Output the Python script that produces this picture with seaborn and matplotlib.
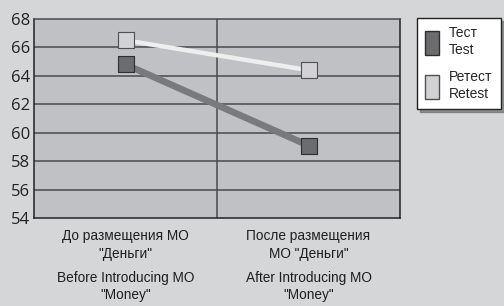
import pandas as pd
import seaborn as sns
import matplotlib.pyplot as plt
from matplotlib.patches import Patch
from matplotlib.transforms import blended_transform_factory

# Data
categories_ru = ["До размещения МО\n\"Деньги\"", "После размещения\nМО \"Деньги\""]
categories_en = ["Before Introducing MO\n\"Money\"", "After Introducing MO\n\"Money\""]
test_values = [64.8, 59.1]
retest_values = [66.5, 64.4]
series_labels = ["Тест\nTest", "Ретест\nRetest"]

BG = "#d5d6d8"
PLOT_BG = "#c0c1c4"
NARROW = ["Liberation Sans", "DejaVu Sans"]

sns.set_theme(style="white")
plt.rcParams["font.family"] = ["Open Sans", "DejaVu Sans"]

df = pd.DataFrame({
    "pos": [0, 1, 0, 1],
    "value": test_values + retest_values,
    "series": ["test", "test", "retest", "retest"],
})

fig = plt.figure(figsize=(5.04, 3.06), dpi=100, facecolor=BG)
ax = fig.add_axes([34 / 504, 1 - 218 / 306, 366 / 504, 199 / 306])
ax.set_facecolor(PLOT_BG)

# grid
for v in range(56, 68, 2):
    ax.axhline(v, color="#4a4a4c", lw=1.1, zorder=1)
ax.axvline(0.5, color="#4a4a4c", lw=1.1, zorder=1)

# lines
sns.lineplot(data=df, x="pos", y="value", hue="series",
             palette={"test": "#7a7a7c", "retest": "#eeeeee"},
             hue_order=["test", "retest"], ax=ax, legend=False, zorder=2)
for line, w in zip(ax.get_lines()[-2:], [4.8, 3.2]):
    line.set_linewidth(w)
    line.set_solid_capstyle("butt")

# markers
sns.scatterplot(data=df[df.series == "test"], x="pos", y="value", marker="s",
                s=135, color="#6c6c6e", edgecolor="#2e2e2e", linewidth=0.8,
                ax=ax, legend=False, zorder=3)
sns.scatterplot(data=df[df.series == "retest"], x="pos", y="value", marker="s",
                s=135, color="#d2d2d4", edgecolor="#505050", linewidth=0.8,
                ax=ax, legend=False, zorder=3)

ax.set_xlim(-0.5, 1.5)
ax.set_ylim(54, 68)
ax.set_yticks(range(54, 69, 2))
ax.tick_params(axis="y", labelsize=12, colors="#222222", pad=3, length=0)
ax.set_xticks([0, 1])
ax.set_xticklabels(categories_ru, family=NARROW, fontsize=9.8, color="#1e1e1e",
                   linespacing=1.35)
ax.tick_params(axis="x", length=0, pad=8)
ax.set_xlabel("")
ax.set_ylabel("")
for s in ax.spines.values():
    s.set_color("#222222")
    s.set_linewidth(1.1)
ax.spines["top"].set_color("#4a4a4c")

trans = blended_transform_factory(ax.transData, fig.transFigure)
for i, lab in enumerate(categories_en):
    ax.text(i, 1 - 271 / 306, lab, transform=trans, ha="center", va="top",
            family=NARROW, fontsize=9.8, color="#1e1e1e", linespacing=1.3)

handles = [Patch(facecolor="#6c6c6e", edgecolor="#2e2e2e"),
           Patch(facecolor="#d2d2d4", edgecolor="#505050")]
leg = fig.legend(handles, series_labels, loc="upper left",
                 bbox_to_anchor=(417 / 504, 1 - 18 / 306),
                 prop={"family": NARROW, "size": 10}, frameon=True,
                 fancybox=False, shadow=True, edgecolor="#222222",
                 facecolor="white", framealpha=1, handlelength=1.0,
                 handleheight=2.3, handletextpad=0.7, labelspacing=1.0,
                 borderpad=0.6, borderaxespad=0)
leg.get_frame().set_linewidth(1.0)

fig.savefig("out.png", dpi=100, facecolor=BG)
